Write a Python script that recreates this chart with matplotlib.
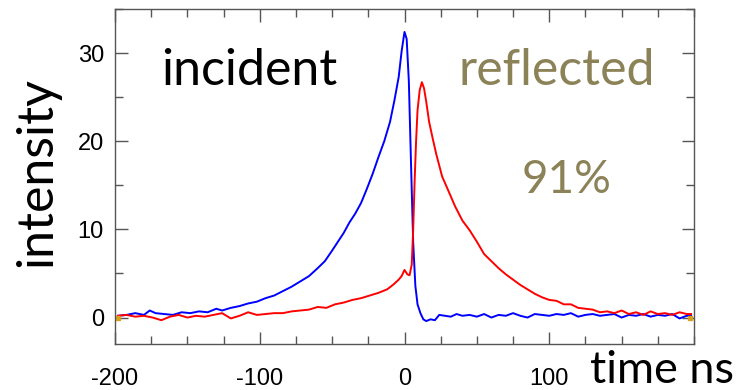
import matplotlib
matplotlib.use("Agg")
from matplotlib import pyplot as plt
from matplotlib.ticker import MultipleLocator

# temps (ns) et intensité - impulsion incidente (bleu)
t_inc = [-198, -192, -186, -180, -176, -172, -166, -160, -154, -148, -142, -136, -130, -126,
         -120, -114, -108, -102, -96, -90, -84, -78, -72, -66, -60, -55, -50, -46, -42, -38,
         -34, -30, -26, -22, -18, -14, -10, -7, -4, -2, 0, 1.5, 3, 4.5, 6, 7.5, 9, 11, 13, 15,
         18, 21, 24, 28, 32, 36, 40, 45, 50, 55, 60, 65, 70, 75, 80, 85, 90, 95, 100, 105,
         110, 115, 120, 125, 130, 135, 140, 145, 150, 155, 160, 165, 170, 175, 180, 185, 190,
         195, 198]
i_inc = [0.2, 0.3, 0.5, 0.3, 0.8, 0.5, 0.4, 0.3, 0.6, 0.5, 0.7, 0.6, 1.0, 0.8,
         1.1, 1.3, 1.6, 1.8, 2.2, 2.5, 3.0, 3.5, 4.1, 4.7, 5.6, 6.4, 7.6, 8.6, 9.6, 10.8,
         11.8, 13.0, 14.6, 16.3, 18.2, 20.0, 22.2, 24.6, 27.3, 30.2, 32.4, 31.6, 26.8, 17.5,
         8.5, 3.6, 1.5, 0.5, -0.2, -0.4, -0.2, -0.3, 0.3, 0.2, 0.1, 0.4, 0.2, 0.3, 0.1, 0.4,
         0.0, 0.3, 0.2, 0.5, 0.2, 0.0, 0.4, 0.3, 0.2, 0.4, 0.3, 0.5, 0.1, 0.3, 0.4, 0.2, 0.3,
         0.4, 0.0, 0.3, 0.2, 0.4, 0.1, 0.3, 0.2, 0.4, -0.1, 0.2, 0.2]

# impulsion réfléchie (rouge)
t_ref = [-198, -192, -186, -180, -174, -168, -162, -156, -150, -144, -138, -132, -126, -120,
         -114, -108, -102, -96, -90, -84, -78, -72, -66, -60, -54, -48, -42, -36, -30, -24,
         -18, -12, -8, -4, -2, 0, 2, 3.5, 5, 6, 7, 8, 9, 10.5, 12, 13.5, 15, 17, 19.5, 22, 26,
         30, 35, 40, 45, 50, 55, 60, 65, 70, 75, 80, 85, 90, 95, 100, 105, 110, 115, 120, 125,
         130, 135, 140, 145, 150, 155, 160, 165, 170, 175, 180, 185, 190, 195, 198]
i_ref = [0.2, 0.3, 0.1, 0.2, 0.0, -0.3, 0.1, 0.3, 0.0, 0.2, 0.1, 0.3, 0.5, -0.1,
         0.2, 0.6, 0.3, 0.4, 0.5, 0.5, 0.7, 0.8, 0.9, 1.2, 1.1, 1.5, 1.7, 2.0, 2.2, 2.5,
         2.8, 3.2, 3.7, 4.3, 4.7, 5.4, 4.9, 4.8, 6.0, 10.0, 15.5, 20.0, 23.5, 25.8, 26.7, 26.0,
         24.5, 22.2, 20.3, 18.5, 16.0, 14.5, 12.6, 11.0, 9.9, 8.6, 7.2, 6.4, 5.6, 4.9, 4.3,
         3.7, 3.2, 2.7, 2.3, 2.0, 1.9, 1.5, 1.5, 1.1, 1.0, 0.9, 0.6, 0.7, 0.5, 0.8, 0.4, 0.6,
         0.3, 0.7, 0.4, 0.5, 0.3, 0.6, 0.4, 0.4]

# petits repères orange aux extrémités
t_end = [-198, 197]
i_end = [0.0, 0.0]

xticks = [-200, -100, 0, 100]
xticklabels = ["-200", "-100", "0", "100"]
yticks = [0, 10, 20, 30]

plt.rcParams['font.family'] = ['Liberation Sans', 'DejaVu Sans']

fig = plt.figure(figsize=(7.53, 3.90), dpi=100)
ax = fig.add_axes([115 / 753, 46 / 390, 579 / 753, 335 / 390])

ax.plot(t_inc, i_inc, color="#0000ff", lw=1.4)
ax.plot(t_ref, i_ref, color="#ff0000", lw=1.4)
ax.plot(t_end, i_end, ls="none", marker="s", ms=3, color="#d9a020")

ax.set_xlim(-200, 200)
ax.set_ylim(-3, 35)
ax.set_xticks(xticks)
ax.set_xticklabels(xticklabels)
ax.set_yticks(yticks)
ax.xaxis.set_minor_locator(MultipleLocator(25))
ax.yaxis.set_minor_locator(MultipleLocator(5))
ax.tick_params(which="both", direction="in", top=True, right=True, color="#555555",
               labelsize=17, width=1)
ax.tick_params(axis="x", which="major", length=9, pad=17)
ax.tick_params(axis="y", which="major", length=9, pad=8)
ax.tick_params(which="minor", length=6)
for s in ax.spines.values():
    s.set_color("#555555")
    s.set_linewidth(1)

ax.text(-107, 26.4, "incident", family="Lato", fontsize=36, color="black",
        ha="center", va="baseline")
ax.text(105.5, 26.4, "reflected", family="Lato", fontsize=36, color="#8c8257",
        ha="center", va="baseline")
ax.text(112, 14.1, "91%", family="Lato", fontsize=33, color="#8c8257",
        ha="center", va="baseline")

fig.text(37 / 753, 1 - 172 / 390, "intensity", family="Lato", fontsize=36,
         rotation=90, ha="center", va="center")
fig.text(590 / 753, 7 / 390, "time ns", family="Lato", fontsize=32.5,
         ha="left", va="baseline")

fig.savefig("out.png", dpi=100)
